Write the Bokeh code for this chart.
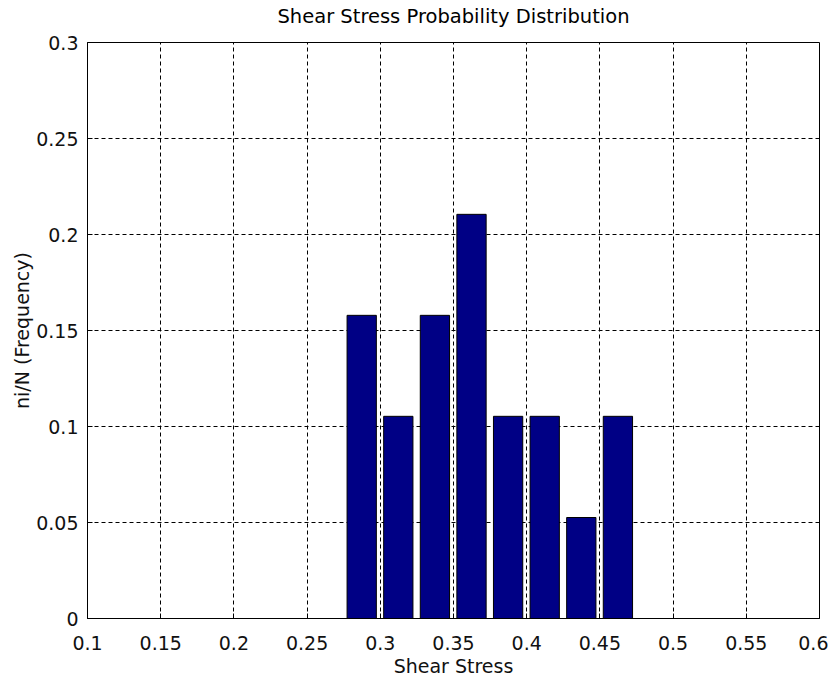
from bokeh.plotting import figure
from bokeh.models import FixedTicker, Range1d, LinearAxis
from bokeh.embed import file_html
from bokeh.resources import INLINE

# Data
bin_centers = [0.2873, 0.3123, 0.3373, 0.3623, 0.3873, 0.4123, 0.4373, 0.4623]
frequency = [0.1579, 0.1053, 0.1579, 0.2105, 0.1053, 0.1053, 0.0526, 0.1053]
x_ticks = [0.1, 0.15, 0.2, 0.25, 0.3, 0.35, 0.4, 0.45, 0.5, 0.55, 0.6]
x_tick_labels = ["0.1", "0.15", "0.2", "0.25", "0.3", "0.35", "0.4", "0.45", "0.5", "0.55", "0.6"]
y_ticks = [0, 0.05, 0.1, 0.15, 0.2, 0.25, 0.3]
y_tick_labels = ["0", "0.05", "0.1", "0.15", "0.2", "0.25", "0.3"]
bar_width = 0.02
title_text = "Shear Stress Probability Distribution"

FONT = "DejaVu Sans"

p = figure(width=828, height=681, output_backend="svg", toolbar_location=None,
           x_range=Range1d(0.1, 0.6), y_range=Range1d(0, 0.3),
           min_border_left=87, min_border_right=9, min_border_top=42, min_border_bottom=63)

p.background_fill_color = "white"
p.border_fill_color = "white"
p.outline_line_color = "black"
p.outline_line_width = 1

bottom_axis = p.below[0]
left_axis = p.left[0]

p.vbar(x=bin_centers, top=frequency, width=bar_width, bottom=0,
       fill_color="#000085", line_color="black", line_width=1)

for ax in (bottom_axis, left_axis):
    ax.major_tick_in = 5
    ax.major_tick_out = 0
    ax.minor_tick_in = 0
    ax.minor_tick_out = 0
    ax.axis_line_color = "black"
    ax.major_tick_line_color = "black"
    ax.major_label_text_font = FONT
    ax.major_label_text_font_size = "19px"
    ax.major_label_text_color = "#111111"
    ax.axis_label_text_font = FONT
    ax.axis_label_text_font_size = "19px"
    ax.axis_label_text_font_style = "normal"
    ax.axis_label_text_color = "#111111"

x_ticker = FixedTicker(ticks=x_ticks)
y_ticker = FixedTicker(ticks=y_ticks)
bottom_axis.ticker = x_ticker
bottom_axis.major_label_overrides = {t: l for t, l in zip(x_ticks, x_tick_labels)}
left_axis.ticker = y_ticker
left_axis.major_label_overrides = {t: l for t, l in zip(y_ticks, y_tick_labels)}
bottom_axis.axis_label = "Shear Stress"
left_axis.axis_label = "ni/N (Frequency)"
bottom_axis.major_label_standoff = 17
bottom_axis.axis_label_standoff = 2
left_axis.major_label_standoff = 9
left_axis.axis_label_standoff = 0

xg = p.xgrid[0]
yg = p.ygrid[0]
xg.ticker = x_ticker
yg.ticker = y_ticker
for g in (xg, yg):
    g.grid_line_color = "black"
    g.grid_line_dash = "4 3"
    g.grid_line_width = 1

# Title drawn as the label of an empty top axis (keeps the frame position fixed)
top_axis = LinearAxis(ticker=FixedTicker(ticks=[]), axis_label=title_text,
                      axis_line_color=None, major_tick_line_color=None,
                      minor_tick_line_color=None, major_label_text_font_size="0px",
                      major_label_standoff=0, axis_label_standoff=15,
                      axis_label_text_font=FONT, axis_label_text_font_size="19.5px",
                      axis_label_text_font_style="normal", axis_label_text_color="black")
p.add_layout(top_axis, "above")

open("out.html", "w").write(file_html(p, INLINE))
